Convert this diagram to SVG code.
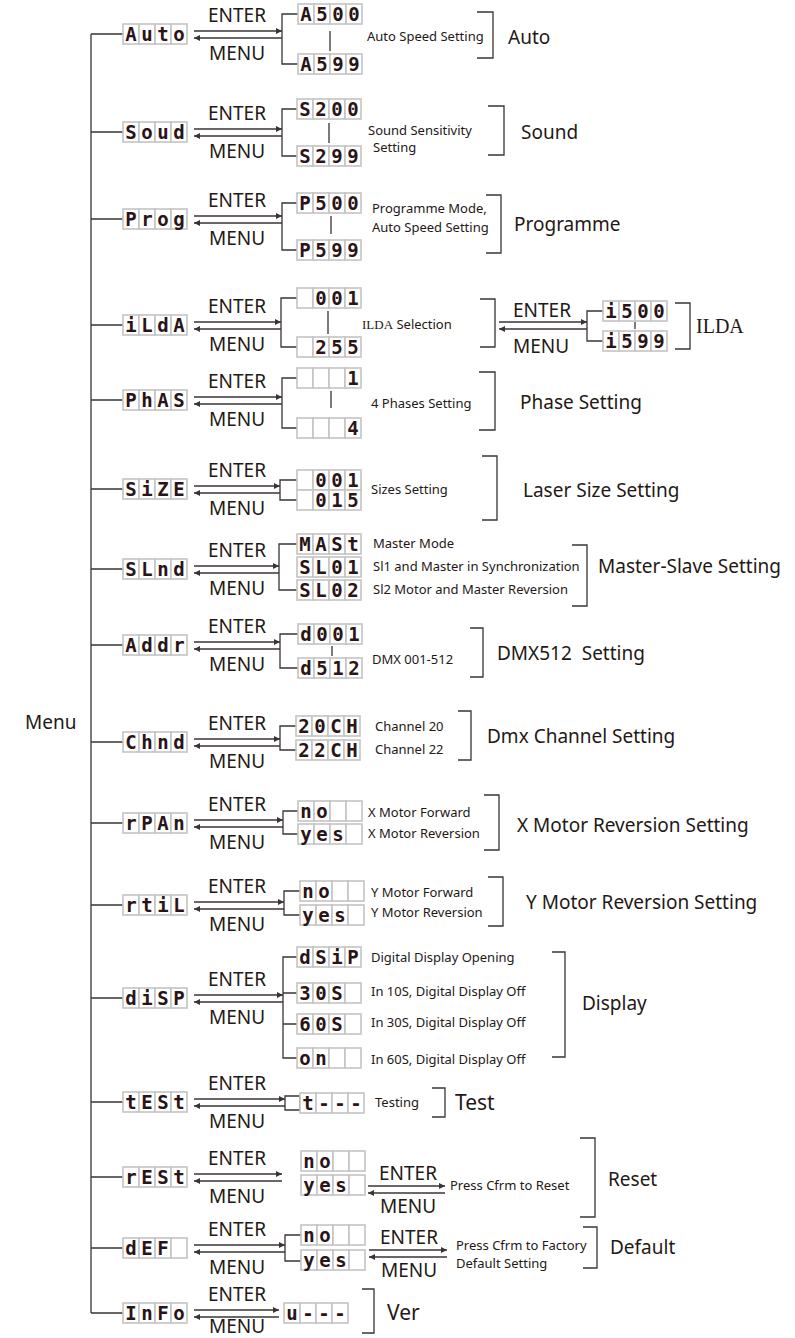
<svg xmlns="http://www.w3.org/2000/svg" xmlns:xlink="http://www.w3.org/1999/xlink" width="795" height="1338" viewBox="0 0 795 1338">
<style>
.cell{fill:#fff;stroke:#c4c4c4;stroke-width:1.6}
.seg{font-family:"DejaVu Sans Mono",monospace;font-weight:bold;font-size:19px;fill:#2a1416;text-anchor:middle}
.ln{fill:none;stroke:#3b3434;stroke-width:1.3}
.ar{fill:none;stroke:#3b3434;stroke-width:1.3;marker-end:url(#ah)}
.lb{font-family:"Noto Sans",sans-serif;font-size:19px;fill:#231815}
.lc{font-family:"Noto Sans",sans-serif;font-size:19px;fill:#231815;text-anchor:middle}
.sm{font-family:"Noto Sans",sans-serif;font-size:13px;fill:#231815}
.sf{font-family:"Liberation Serif",serif}
</style>
<defs>
<marker id="ah" viewBox="0 0 10 10" refX="10" refY="5" markerWidth="8" markerHeight="6" orient="auto" markerUnits="userSpaceOnUse"><path d="M0,0 L10,5 L0,10 z" fill="#3b3434"/></marker>
<g id="b4"><rect class="cell" x="0" y="0" width="16" height="20"/><rect class="cell" x="16" y="0" width="16" height="20"/><rect class="cell" x="32" y="0" width="16" height="20"/><rect class="cell" x="48" y="0" width="16" height="20"/></g>
</defs>
<rect width="795" height="1338" fill="#fff"/>

<g id="connectors">
<path class="ln" d="M91,34 V1313 M91,34 H123 M91,132 H123 M91,219 H123 M91,325 H123 M91,400 H123 M91,489 H123 M91,569 H123 M91,645 H123 M91,742 H123 M91,823 H123 M91,905 H123 M91,998 H123 M91,1102 H123 M91,1177 H123 M91,1248 H123 M91,1313 H123"/>
<path class="ar" d="M194,31 H282"/><path class="ar" d="M282,38 H194"/>
<path class="ar" d="M194,129 H282"/><path class="ar" d="M282,136 H194"/>
<path class="ar" d="M194,216 H282"/><path class="ar" d="M282,223 H194"/>
<path class="ar" d="M194,322 H281"/><path class="ar" d="M281,329 H194"/>
<path class="ar" d="M194,397 H282"/><path class="ar" d="M282,404 H194"/>
<path class="ar" d="M194,486 H280"/><path class="ar" d="M280,493 H194"/>
<path class="ar" d="M194,566 H279"/><path class="ar" d="M279,573 H194"/>
<path class="ar" d="M194,642 H280"/><path class="ar" d="M280,649 H194"/>
<path class="ar" d="M194,739 H280"/><path class="ar" d="M280,746 H194"/>
<path class="ar" d="M194,820 H283"/><path class="ar" d="M283,827 H194"/>
<path class="ar" d="M194,902 H284"/><path class="ar" d="M284,909 H194"/>
<path class="ar" d="M194,995 H283"/><path class="ar" d="M283,1002 H194"/>
<path class="ar" d="M194,1099 H285"/><path class="ar" d="M285,1106 H194"/>
<path class="ar" d="M194,1174 H282"/><path class="ar" d="M282,1181 H194"/>
<path class="ar" d="M194,1245 H285"/><path class="ar" d="M285,1252 H194"/>
<path class="ar" d="M194,1310 H279"/><path class="ar" d="M279,1317 H194"/>
<path class="ar" d="M499,322 H587"/><path class="ar" d="M587,329 H499"/>
<path class="ar" d="M368,1186 H445"/><path class="ar" d="M445,1193 H368"/>
<path class="ar" d="M369,1250 H447"/><path class="ar" d="M447,1257 H369"/>
<path class="ln" d="M298,14 H282 V64 H298 M330,31 V51 M477,12 H493 V58 H477"/>
<path class="ln" d="M297,109 H282 V156 H297 M329,123 V143 M488,106 H504 V155 H488"/>
<path class="ln" d="M297,203 H282 V250 H297 M331,216 V234 M486,195 H501 V253 H486"/>
<path class="ln" d="M297,298 H281 V347 H297 M328,311 V334 M480,299 H495 V347 H480 M603,311 H587 V341 H603 M635,322 V329 M675,303 H690 V349 H675"/>
<path class="ln" d="M297,378 H282 V428 H297 M331,391 V408 M479,372 H495 V430 H479"/>
<path class="ln" d="M297,480 H280 V500 H297 M482,456 H497 V520 H482"/>
<path class="ln" d="M297,544 H279 V590 H297 M572,545 H587 V606 H572"/>
<path class="ln" d="M298,634 H280 V668 H298 M332,646 V656 M470,628 H483 V677 H470"/>
<path class="ln" d="M296,726 H280 V750 H296 M458,711 H471 V760 H458"/>
<path class="ln" d="M298,811 H283 V834 H298 M484,795 H499 V850 H484"/>
<path class="ln" d="M300,891 H284 V915 H300 M488,877 H503 V926 H488"/>
<path class="ln" d="M297,957 H283 V1058 H297 M283,993 H297 M283,1024 H297 M552,952 H565 V1057 H552"/>
<path class="ln" d="M285,1096 H300 V1110 H285 Z M432,1088 H445 V1117 H432"/>
<path class="ln" d="M580,1138 H595 V1217 H580"/>
<path class="ln" d="M301,1235 H285 V1261 H301 M583,1227 H597 V1268 H583"/>
<path class="ln" d="M362,1289 H374 V1333 H362"/>
</g>

<g id="arrow-labels">
<text class="lc" x="237" y="22">ENTER</text><text class="lc" x="237" y="60">MENU</text>
<text class="lc" x="237" y="120">ENTER</text><text class="lc" x="237" y="158">MENU</text>
<text class="lc" x="237" y="207">ENTER</text><text class="lc" x="237" y="245">MENU</text>
<text class="lc" x="237" y="313">ENTER</text><text class="lc" x="237" y="351">MENU</text>
<text class="lc" x="237" y="388">ENTER</text><text class="lc" x="237" y="426">MENU</text>
<text class="lc" x="237" y="477">ENTER</text><text class="lc" x="237" y="515">MENU</text>
<text class="lc" x="237" y="557">ENTER</text><text class="lc" x="237" y="595">MENU</text>
<text class="lc" x="237" y="633">ENTER</text><text class="lc" x="237" y="671">MENU</text>
<text class="lc" x="237" y="730">ENTER</text><text class="lc" x="237" y="768">MENU</text>
<text class="lc" x="237" y="811">ENTER</text><text class="lc" x="237" y="849">MENU</text>
<text class="lc" x="237" y="893">ENTER</text><text class="lc" x="237" y="931">MENU</text>
<text class="lc" x="237" y="986">ENTER</text><text class="lc" x="237" y="1024">MENU</text>
<text class="lc" x="237" y="1090">ENTER</text><text class="lc" x="237" y="1128">MENU</text>
<text class="lc" x="237" y="1165">ENTER</text><text class="lc" x="237" y="1203">MENU</text>
<text class="lc" x="237" y="1236">ENTER</text><text class="lc" x="237" y="1274">MENU</text>
<text class="lc" x="237" y="1301">ENTER</text><text class="lc" x="237" y="1333">MENU</text>
<text class="lc" x="542" y="317">ENTER</text><text class="lc" x="541" y="353">MENU</text>
<text class="lc" x="408" y="1180">ENTER</text><text class="lc" x="408" y="1213">MENU</text>
<text class="lc" x="409" y="1244">ENTER</text><text class="lc" x="409" y="1277">MENU</text>
</g>

<g id="menu"><text class="lb" x="25" y="729">Menu</text></g>

<g id="auto"><use href="#b4" x="123" y="24"/><text class="seg" x="131 147 163 179" y="40.5">Auto</text></g>
<g id="auto-a500"><use href="#b4" x="298" y="4"/><text class="seg" x="306 322 338 354" y="20.5">A500</text></g>
<g id="auto-a599"><use href="#b4" x="298" y="54"/><text class="seg" x="306 322 338 354" y="70.5">A599</text></g>
<g id="auto-desc"><text class="sm" x="367" y="41">Auto Speed Setting</text><text class="lb" x="508" y="44">Auto</text></g>

<g id="soud"><use href="#b4" x="123" y="122"/><text class="seg" x="131 147 163 179" y="138.5">Soud</text></g>
<g id="soud-s200"><use href="#b4" x="297" y="99"/><text class="seg" x="305 321 337 353" y="115.5">S200</text></g>
<g id="soud-s299"><use href="#b4" x="297" y="146"/><text class="seg" x="305 321 337 353" y="162.5">S299</text></g>
<g id="soud-desc"><text class="sm" x="368" y="135">Sound Sensitivity</text><text class="sm" x="373" y="152">Setting</text><text class="lb" x="521" y="139">Sound</text></g>

<g id="prog"><use href="#b4" x="123" y="209"/><text class="seg" x="131 147 163 179" y="225.5">Prog</text></g>
<g id="prog-p500"><use href="#b4" x="297" y="193"/><text class="seg" x="305 321 337 353" y="209.5">P500</text></g>
<g id="prog-p599"><use href="#b4" x="297" y="240"/><text class="seg" x="305 321 337 353" y="256.5">P599</text></g>
<g id="prog-desc"><text class="sm" x="372" y="213">Programme Mode,</text><text class="sm" x="372" y="232">Auto Speed Setting</text><text class="lb" x="514" y="231">Programme</text></g>

<g id="ilda"><use href="#b4" x="123" y="315"/><text class="seg" x="131 147 163 179" y="331.5">iLdA</text></g>
<g id="ilda-001"><use href="#b4" x="297" y="288"/><text class="seg" x="321 337 353" y="304.5">001</text></g>
<g id="ilda-255"><use href="#b4" x="297" y="337"/><text class="seg" x="321 337 353" y="353.5">255</text></g>
<g id="ilda-desc"><text class="sm" x="362" y="329"><tspan class="sf">ILDA</tspan> Selection</text></g>
<g id="ilda-i500"><use href="#b4" x="603" y="301"/><text class="seg" x="611 627 643 659" y="317.5">i500</text></g>
<g id="ilda-i599"><use href="#b4" x="603" y="331"/><text class="seg" x="611 627 643 659" y="347.5">i599</text></g>
<g id="ilda-label"><text class="lb" x="696" y="333" style="font-family:'Liberation Serif',serif;font-size:20px">ILDA</text></g>

<g id="phas"><use href="#b4" x="123" y="390"/><text class="seg" x="131 147 163 179" y="406.5">PhAS</text></g>
<g id="phas-1"><use href="#b4" x="297" y="368"/><text class="seg" x="353" y="384.5">1</text></g>
<g id="phas-4"><use href="#b4" x="297" y="418"/><text class="seg" x="353" y="434.5">4</text></g>
<g id="phas-desc"><text class="sm" x="371" y="408">4 Phases Setting</text><text class="lb" x="520" y="409">Phase Setting</text></g>

<g id="size"><use href="#b4" x="123" y="479"/><text class="seg" x="131 147 163 179" y="495.5">SiZE</text></g>
<g id="size-001"><use href="#b4" x="297" y="470"/><text class="seg" x="321 337 353" y="486.5">001</text></g>
<g id="size-015"><use href="#b4" x="297" y="490"/><text class="seg" x="321 337 353" y="506.5">015</text></g>
<g id="size-desc"><text class="sm" x="371" y="494">Sizes Setting</text><text class="lb" x="523" y="497">Laser Size Setting</text></g>

<g id="slnd"><use href="#b4" x="123" y="559"/><text class="seg" x="131 147 163 179" y="575.5">SLnd</text></g>
<g id="slnd-mast"><use href="#b4" x="297" y="534"/><text class="seg" x="305 321 337 353" y="550.5">MASt</text></g>
<g id="slnd-sl01"><use href="#b4" x="297" y="557"/><text class="seg" x="305 321 337 353" y="573.5">SL01</text></g>
<g id="slnd-sl02"><use href="#b4" x="297" y="580"/><text class="seg" x="305 321 337 353" y="596.5">SL02</text></g>
<g id="slnd-desc"><text class="sm" x="373" y="548">Master Mode</text><text class="sm" x="373" y="571">Sl1 and Master in Synchronization</text><text class="sm" x="373" y="594">Sl2 Motor and Master Reversion</text><text class="lb" x="598" y="573">Master-Slave Setting</text></g>

<g id="addr"><use href="#b4" x="123" y="635"/><text class="seg" x="131 147 163 179" y="651.5">Addr</text></g>
<g id="addr-d001"><use href="#b4" x="298" y="624"/><text class="seg" x="306 322 338 354" y="640.5">d001</text></g>
<g id="addr-d512"><use href="#b4" x="298" y="658"/><text class="seg" x="306 322 338 354" y="674.5">d512</text></g>
<g id="addr-desc"><text class="sm" x="372" y="664">DMX 001-512</text><text class="lb" x="497" y="660" xml:space="preserve">DMX512  Setting</text></g>

<g id="chnd"><use href="#b4" x="123" y="732"/><text class="seg" x="131 147 163 179" y="748.5">Chnd</text></g>
<g id="chnd-20ch"><use href="#b4" x="296" y="716"/><text class="seg" x="304 320 336 352" y="732.5">20CH</text></g>
<g id="chnd-22ch"><use href="#b4" x="296" y="740"/><text class="seg" x="304 320 336 352" y="756.5">22CH</text></g>
<g id="chnd-desc"><text class="sm" x="375" y="731">Channel 20</text><text class="sm" x="375" y="754">Channel 22</text><text class="lb" x="487" y="743">Dmx Channel Setting</text></g>

<g id="rpan"><use href="#b4" x="123" y="813"/><text class="seg" x="131 147 163 179" y="829.5">rPAn</text></g>
<g id="rpan-no"><use href="#b4" x="298" y="801"/><text class="seg" x="306 322" y="817.5">no</text></g>
<g id="rpan-yes"><use href="#b4" x="298" y="824"/><text class="seg" x="306 322 338" y="840.5">yes</text></g>
<g id="rpan-desc"><text class="sm" x="368" y="817">X Motor Forward</text><text class="sm" x="368" y="838">X Motor Reversion</text><text class="lb" x="517" y="832">X Motor Reversion Setting</text></g>

<g id="rtil"><use href="#b4" x="123" y="895"/><text class="seg" x="131 147 163 179" y="911.5">rtiL</text></g>
<g id="rtil-no"><use href="#b4" x="300" y="881"/><text class="seg" x="308 324" y="897.5">no</text></g>
<g id="rtil-yes"><use href="#b4" x="300" y="905"/><text class="seg" x="308 324 340" y="921.5">yes</text></g>
<g id="rtil-desc"><text class="sm" x="371" y="897">Y Motor Forward</text><text class="sm" x="371" y="917">Y Motor Reversion</text><text class="lb" x="526" y="909">Y Motor Reversion Setting</text></g>

<g id="disp"><use href="#b4" x="123" y="988"/><text class="seg" x="131 147 163 179" y="1004.5">diSP</text></g>
<g id="disp-dsip"><use href="#b4" x="297" y="947"/><text class="seg" x="305 321 337 353" y="963.5">dSiP</text></g>
<g id="disp-30s"><use href="#b4" x="297" y="983"/><text class="seg" x="305 321 337" y="999.5">30S</text></g>
<g id="disp-60s"><use href="#b4" x="297" y="1014"/><text class="seg" x="305 321 337" y="1030.5">60S</text></g>
<g id="disp-on"><use href="#b4" x="297" y="1048"/><text class="seg" x="305 321" y="1064.5">on</text></g>
<g id="disp-desc"><text class="sm" x="371" y="962">Digital Display Opening</text><text class="sm" x="371" y="996">In 10S, Digital Display Off</text><text class="sm" x="371" y="1027">In 30S, Digital Display Off</text><text class="sm" x="371" y="1064">In 60S, Digital Display Off</text><text class="lb" x="582" y="1010">Display</text></g>

<g id="test"><use href="#b4" x="123" y="1092"/><text class="seg" x="131 147 163 179" y="1108.5">tESt</text></g>
<g id="test-t"><use href="#b4" x="300" y="1093"/><text class="seg" x="308 324 340 356" y="1109.5">t---</text></g>
<g id="test-desc"><text class="sm" x="375" y="1107">Testing</text><text class="lb" x="455" y="1110" style="font-size:21px">Test</text></g>

<g id="rest"><use href="#b4" x="123" y="1167"/><text class="seg" x="131 147 163 179" y="1183.5">rESt</text></g>
<g id="rest-no"><use href="#b4" x="301" y="1151"/><text class="seg" x="309 325" y="1167.5">no</text></g>
<g id="rest-yes"><use href="#b4" x="301" y="1175"/><text class="seg" x="309 325 341" y="1191.5">yes</text></g>
<g id="rest-desc"><text class="sm" x="450" y="1190">Press Cfrm to Reset</text><text class="lb" x="608" y="1186">Reset</text></g>

<g id="def"><use href="#b4" x="123" y="1238"/><text class="seg" x="131 147 163" y="1254.5">dEF</text></g>
<g id="def-no"><use href="#b4" x="301" y="1225"/><text class="seg" x="309 325" y="1241.5">no</text></g>
<g id="def-yes"><use href="#b4" x="301" y="1250"/><text class="seg" x="309 325 341" y="1266.5">yes</text></g>
<g id="def-desc"><text class="sm" x="456" y="1250">Press Cfrm to Factory</text><text class="sm" x="456" y="1268">Default Setting</text><text class="lb" x="610" y="1254">Default</text></g>

<g id="info"><use href="#b4" x="123" y="1303"/><text class="seg" x="131 147 163 179" y="1319.5">InFo</text></g>
<g id="info-u"><use href="#b4" x="284" y="1303"/><text class="seg" x="292 308 324 340" y="1319.5">u---</text></g>
<g id="info-desc"><text class="lb" x="387" y="1320" style="font-size:21px">Ver</text></g>
</svg>
